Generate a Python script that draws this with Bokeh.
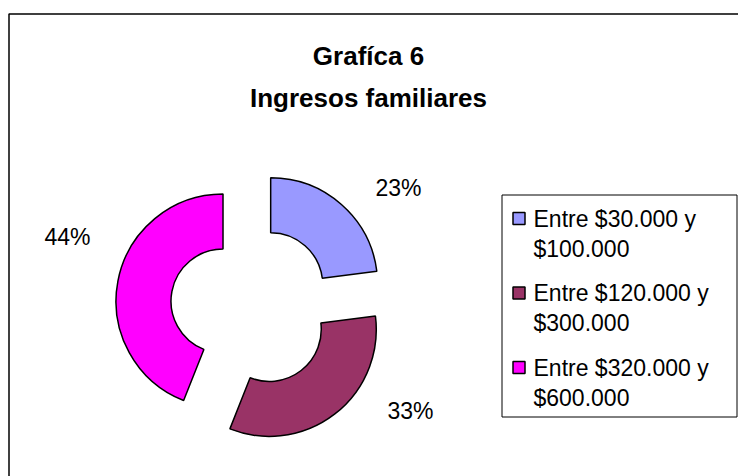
import math
from bokeh.plotting import figure
from bokeh.models import Range1d, ColumnDataSource
from bokeh.core.properties import value
from bokeh.embed import file_html
from bokeh.resources import INLINE

# ---- data ----
title_lines = ["Grafíca 6", "Ingresos familiares"]
categories = ["Entre $30.000 y $100.000", "Entre $120.000 y $300.000", "Entre $320.000 y $600.000"]
shares = [23, 33, 44]
colors = ["#9999FF", "#993366", "#FF00FF"]

# ---- layout constants (pixels) ----
W, H = 738, 476
FONT = value("Liberation Sans")
CX, CY = 251, 170          # donut centre
R_OUT, R_IN = 107, 52
EXPLODE = 29
LABEL_OFFSETS = [(147, 119), (159, -104), (-184, 70)]  # label position relative to centre

p = figure(width=W, height=H, x_range=Range1d(0, W), y_range=Range1d(0, H),
           output_backend="svg", toolbar_location=None, min_border=0)
p.axis.visible = False
p.grid.visible = False
p.outline_line_color = None
p.background_fill_color = "white"
p.border_fill_color = "white"

# chart area frame (left and top edges visible)
p.line([8.5, 8.5, W], [0, H - 13.5, H - 13.5], line_color="black", line_width=1.5)

# title
p.text(x=[368, 368], y=[H - 55, H - 97], text=title_lines,
       text_font=FONT, text_font_size="26px", text_font_style="bold",
       text_align="center", text_baseline="middle", text_color="black")

# exploded donut
total = float(sum(shares))
xs, ys, starts, ends, lx, ly, labels = [], [], [], [], [], [], []
cum = 0.0
for i, v in enumerate(shares):
    t0 = cum / total * 2 * math.pi
    cum += v
    t1 = cum / total * 2 * math.pi
    mid = (t0 + t1) / 2
    xs.append(CX + EXPLODE * math.sin(mid))
    ys.append(CY + EXPLODE * math.cos(mid))
    starts.append(math.pi / 2 - t1)
    ends.append(math.pi / 2 - t0)
    lx.append(CX + LABEL_OFFSETS[i][0])
    ly.append(CY + LABEL_OFFSETS[i][1])
    labels.append(f"{v}%")

src = ColumnDataSource(dict(x=xs, y=ys, s=starts, e=ends, c=colors))
p.annular_wedge(x="x", y="y", inner_radius=R_IN, outer_radius=R_OUT,
                start_angle="s", end_angle="e", fill_color="c",
                line_color="black", line_width=1.5, source=src)

p.text(x=lx, y=ly, text=labels, text_font=FONT, text_font_size="23px",
       text_align="center", text_baseline="middle", text_color="black")

# legend box
p.quad(left=[501.5], right=[736.5], bottom=[59.5], top=[281.5],
       fill_color="white", line_color="black", line_width=1)

for i, (cat, col) in enumerate(zip(categories, colors)):
    y1 = 258 - i * 74.5
    first, second = cat.split(" y ")
    p.rect(x=[518.5], y=[y1], width=12, height=12, fill_color=col,
           line_color="black", line_width=1.5)
    p.text(x=[533, 533], y=[y1, y1 - 30], text=[first + " y", second],
           text_font=FONT, text_font_size="23px",
           text_align="left", text_baseline="middle", text_color="black")

open("out.html", "w").write(file_html(p, INLINE))
